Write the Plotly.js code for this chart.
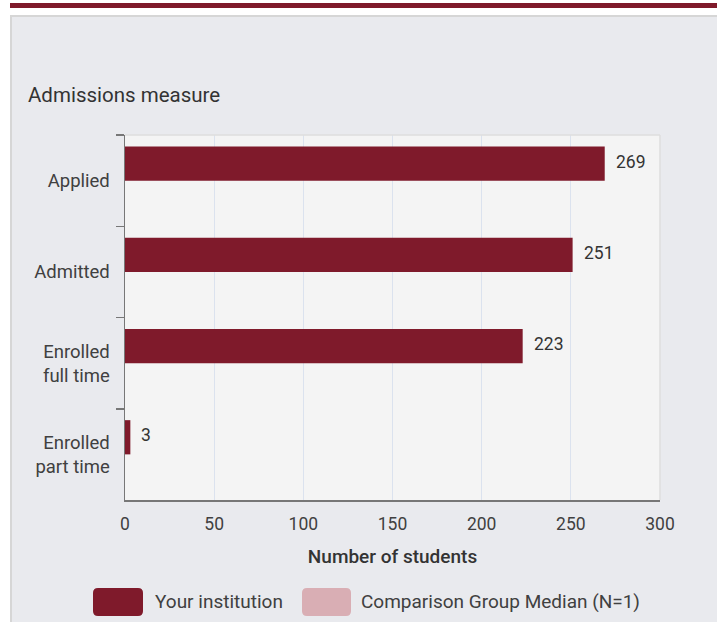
<!DOCTYPE html>
<html>
<head>
<meta charset="utf-8">
<script src="https://cdn.plot.ly/plotly-3.0.1.min.js"></script>
<style>
html,body{margin:0;padding:0;background:#ffffff;}
#chart{width:717px;height:622px;}
</style>
</head>
<body>
<div id="chart"></div>
<script>
// ---- Data ----
const categories = ['Applied', 'Admitted', 'Enrolled<br>full time', 'Enrolled<br>part time'];
const yourInstitution = [269, 251, 223, 3];
const comparisonMedian = [null, null, null, null];
const xTickValues = [0, 50, 100, 150, 200, 250, 300];
const seriesNames = ['Your institution', 'Comparison Group Median (N=1)'];
const seriesColors = ['#7f1a2b', '#d9aeb4'];
const chartTitle = 'Admissions measure';
const xAxisTitle = 'Number of students';

// ---- Layout geometry (pixels) ----
const W = 717, H = 622;
const M = {l: 125, r: 57, t: 135, b: 122};
const PW = W - M.l - M.r, PH = H - M.t - M.b;
const X = px => (px - M.l) / PW;
const Y = py => (H - M.b - py) / PH;
const FONT = 'Roboto, "Open Sans", sans-serif';
const TXT = '#404040';

function rectShape(x0, y0, x1, y1, color, layer) {
  return {type: 'rect', xref: 'paper', yref: 'paper', x0: X(x0), x1: X(x1), y0: Y(y1), y1: Y(y0),
          fillcolor: color, line: {width: 0}, layer: layer || 'above'};
}
function roundRect(x0, y0, x1, y1, r, color) {
  const p = (px, py) => X(px) + ',' + Y(py);
  const path = 'M' + p(x0 + r, y0) + ' L' + p(x1 - r, y0) + ' Q' + p(x1, y0) + ' ' + p(x1, y0 + r) +
    ' L' + p(x1, y1 - r) + ' Q' + p(x1, y1) + ' ' + p(x1 - r, y1) +
    ' L' + p(x0 + r, y1) + ' Q' + p(x0, y1) + ' ' + p(x0, y1 - r) +
    ' L' + p(x0, y0 + r) + ' Q' + p(x0, y0) + ' ' + p(x0 + r, y0) + ' Z';
  return {type: 'path', xref: 'paper', yref: 'paper', path: path, fillcolor: color, line: {width: 0}, layer: 'above'};
}

const traces = [
  {type: 'bar', orientation: 'h', name: seriesNames[0], y: categories, x: yourInstitution,
   marker: {color: seriesColors[0], line: {width: 0}}, hoverinfo: 'x+y', showlegend: false},
  {type: 'bar', orientation: 'h', name: seriesNames[1], y: categories, x: comparisonMedian,
   marker: {color: seriesColors[1], line: {width: 0}}, hoverinfo: 'x+y', showlegend: false}
];

const shapes = [
  rectShape(0, 0, W, 15, '#ffffff'),
  rectShape(0, 0, 10, H, '#ffffff'),
  rectShape(10, 3, W, 8, seriesColors[0]),
  rectShape(10, 15, W, 17, '#d6d6d6'),
  rectShape(10, 15, 12, H, '#d6d6d6'),
  {type: 'line', xref: 'paper', yref: 'paper', x0: 0, x1: 1, y0: 1, y1: 1, line: {color: '#dedede', width: 1.5}, layer: 'above'},
  {type: 'line', xref: 'paper', yref: 'paper', x0: 1, x1: 1, y0: 0, y1: 1, line: {color: '#dedede', width: 1.5}, layer: 'above'},
  roundRect(93, 588, 143, 616, 5, seriesColors[0]),
  roundRect(302, 588, 351, 616, 5, seriesColors[1])
];

const annotations = [];
yourInstitution.forEach((v, i) => {
  if (v === null) return;
  annotations.push({x: v, y: categories[i], xref: 'x', yref: 'y', text: String(v), showarrow: false,
    xanchor: 'left', yanchor: 'middle', xshift: 9, yshift: 19, font: {family: FONT, size: 17.5, color: '#333333'}});
});
annotations.push({xref: 'paper', yref: 'paper', x: X(153), y: Y(601), xanchor: 'left', yanchor: 'middle',
  text: seriesNames[0], showarrow: false, font: {family: FONT, size: 19, color: TXT}});
annotations.push({xref: 'paper', yref: 'paper', x: X(359), y: Y(601), xanchor: 'left', yanchor: 'middle',
  text: seriesNames[1], showarrow: false, font: {family: FONT, size: 19, color: TXT}});

const layout = {
  width: W, height: H,
  margin: M,
  paper_bgcolor: '#e9eaee',
  plot_bgcolor: '#f4f4f4',
  barmode: 'group',
  bargap: 0.25,
  bargroupgap: 0,
  showlegend: false,
  title: {text: chartTitle, xref: 'container', yref: 'container', x: 28 / W, y: 1 - 95 / H,
          xanchor: 'left', yanchor: 'middle', font: {family: FONT, size: 20.5, color: '#333333'}},
  xaxis: {
    range: [0, 300], tickvals: xTickValues, ticks: '', showgrid: true, gridcolor: '#dbe2ee', gridwidth: 1,
    zeroline: false, showline: true, linecolor: '#777777', linewidth: 1.5,
    ticklabelstandoff: 7,
    tickfont: {family: FONT, size: 17.5, color: TXT},
    title: {text: xAxisTitle, standoff: 17, font: {family: FONT, size: 19, color: '#333333', weight: 500}},
    fixedrange: true
  },
  yaxis: {
    type: 'category', categoryorder: 'array', categoryarray: categories, range: [3.5, -0.5],
    ticks: 'outside', tickson: 'boundaries', ticklen: 8, tickwidth: 1.5, tickcolor: '#777777',
    showgrid: false, zeroline: false, showline: true, linecolor: '#777777', linewidth: 1.5,
    ticklabelstandoff: 10,
    tickfont: {family: FONT, size: 18.5, color: TXT},
    fixedrange: true
  },
  shapes: shapes,
  annotations: annotations,
  font: {family: FONT, color: TXT}
};

Plotly.newPlot('chart', traces, layout, {displayModeBar: false, staticPlot: true});
</script>
</body>
</html>
